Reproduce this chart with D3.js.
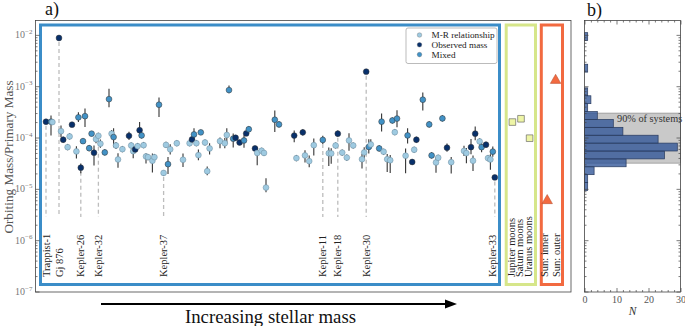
<!DOCTYPE html>
<html><head><meta charset="utf-8">
<script src="https://cdn.jsdelivr.net/npm/d3@7"></script>
<style>body{margin:0;background:#fff}svg{display:block}svg text{font-family:'Liberation Serif','DejaVu Serif',serif}</style>
</head><body><svg id="c" width="685" height="326" font-family="Liberation Serif"></svg>
<script>
// ---------------- DATA ----------------
// position along the stellar-mass ordering (arbitrary units)
const order=[1.5,2.75,3.1,4.75,5.25,5.8,6.9,7.4,8.0,9.1,
9.6,10.2,10.75,11.25,12.3,12.9,13.5,14.0,14.6,15.1,
16.2,17.25,17.9,18.4,19.0,19.5,20.6,22.25,22.8,23.3,
23.8,24.4,24.9,25.4,25.9,26.5,27.0,28.1,28.6,29.75,
30.9,31.5,32.0,32.55,34.2,35.75,37.4,38.0,38.5,39.1,
39.6,40.2,41.25,41.8,42.4,45.0,46.2,46.7,47.25,48.3,
48.9,49.9,51.0,51.55,52.2,53.75,54.3,55.4,56.0,56.5,
58.7,59.75,63.55,64.1,65.7,66.25,67.3,68.45,70.7,72.2,
72.8,73.9,74.45,75.55,76.7,77.25,78.3,80.5,81.05,81.55,
82.2,82.7,84.8,85.4,85.9,86.8,87.55,88.1,88.7,89.25,
91.4,91.9,93.05,93.55,94.1,95.7,97.3,97.9,99.0,99.55,
100.6,101.75,102.8,106.0,106.6,107.75,108.25,108.8,109.9,110.4,
111.5,112.0,112.6,113.2,113.7];
// orbiting mass / primary mass
const ratio=[2.03e-4,2.03e-4,2.0e-4,8.7e-3,1.33e-4,9.06e-5,6.5e-5,1.05e-4,1.78e-4,5.36e-5,
2.47e-4,2.58e-5,8.5e-5,2.61e-4,6.2e-5,1.19e-4,5.06e-5,9.3e-5,1.08e-4,7.57e-5,
5.13e-5,5.6e-4,1.19e-4,1.02e-4,7.0e-5,3.74e-5,5.94e-5,1.08e-4,7.0e-5,5.43e-5,
5.86e-5,6.8e-5,1.39e-4,1.10e-4,7.1e-5,4.28e-5,4.15e-5,3.53e-5,4.15e-5,4.36e-4,
2.04e-5,7.18e-5,3.03e-5,5.9e-5,7.74e-5,3.69e-5,7.74e-5,9.18e-5,1.15e-4,7.76e-5,
4.54e-5,1.26e-4,8.0e-5,2.21e-5,6.13e-5,8.5e-5,7.74e-5,1.12e-4,8.4e-4,9.5e-5,
9.9e-5,8.0e-5,8.77e-5,1.20e-4,1.45e-4,6.13e-5,5.0e-5,5.53e-5,5.0e-5,1.06e-5,
2.22e-4,1.80e-4,1.09e-4,3.97e-5,1.26e-4,4.48e-5,3.47e-5,7.1e-5,8.98e-5,4.94e-5,
4.9e-5,7.0e-5,1.19e-4,5.08e-5,4.06e-5,8.77e-5,7.0e-5,3.78e-5,5.13e-5,1.92e-3,
6.56e-5,7.33e-5,6.13e-5,2.04e-4,5.29e-5,3.78e-5,3.61e-5,2.15e-4,1.27e-4,2.34e-4,
4.42e-5,1.10e-4,3.34e-5,5.78e-5,9.06e-5,5.46e-4,1.80e-4,4.48e-5,3.27e-5,4.04e-5,
2.36e-4,6.33e-5,3.31e-5,5.48e-5,4.97e-5,6.5e-5,3.53e-5,1.19e-4,8.4e-5,6.5e-5,
7.24e-5,3.97e-5,3.74e-5,5.31e-5,1.67e-5];
// L = M-R relationship, O = Observed mass, X = Mixed
const kind=["O","X","L","O","L","O","L","L","O","L",
"X","O","X","X","X","X","O","L","L","L",
"X","X","L","X","L","L","L","O","L","L",
"O","L","O","X","L","L","L","L","L","X",
"L","L","X","L","L","L","L","O","X","L",
"L","X","L","L","L","L","L","L","X","X",
"O","O","X","O","X","O","L","L","L","L",
"X","X","O","L","O","L","L","L","X","L",
"L","L","O","L","L","L","L","L","L","O",
"X","L","X","X","L","L","L","X","L","X",
"L","X","O","L","O","X","X","X","L","L",
"X","O","L","L","L","O","L","O","L","X",
"O","L","L","X","O"];
// error bars, in dex below / above
const errDn=[0,0.27,0,0,0.12,0.06,0.06,0.06,0.05,0.14,
0.09,0.11,0.05,0.21,0.06,0.05,0.25,0.08,0.06,0.08,
0.06,0.16,0.07,0.20,0.07,0.16,0.06,0.08,0.06,0.14,
0.06,0.06,0.14,0.06,0.06,0.14,0.06,0.23,0.06,0.24,
0.06,0.06,0.19,0.10,0.06,0.14,0.06,0.06,0.12,0.06,
0.10,0.05,0.06,0.08,0.12,0.14,0.10,0.17,0.06,0.17,
0.05,0.05,0.14,0.05,0.06,0.05,0.24,0.06,0.06,0.09,
0.24,0.06,0.13,0.06,0.06,0.14,0.12,0.20,0.08,0.25,
0.20,0.06,0.06,0.06,0.06,0.20,0.06,0.18,0.12,0,
0.13,0.08,0.06,0.19,0.06,0.25,0.25,0.06,0.06,0.17,
0.34,0.16,0.06,0.06,0.06,0.21,0.06,0.06,0.20,0.06,
0.06,0.08,0.22,0.10,0.20,0.14,0.20,0.13,0.06,0.10,
0.06,0.06,0.20,0.10,0];
const errUp=[0,0.12,0,0,0.11,0.06,0.06,0.06,0.05,0.10,
0.10,0.08,0.05,0.15,0.06,0.05,0.14,0.08,0.06,0.08,
0.06,0.20,0.07,0.17,0.07,0.12,0.06,0.08,0.06,0.11,
0.06,0.06,0.16,0.06,0.06,0.06,0.06,0.14,0.06,0.14,
0.06,0.06,0.14,0.10,0.06,0.12,0.06,0.06,0.12,0.06,
0.11,0.05,0.06,0.09,0.10,0.07,0.10,0.13,0.09,0.10,
0.05,0.05,0.10,0.05,0.06,0.05,0.11,0.06,0.06,0.18,
0.18,0.06,0.10,0.06,0.06,0.10,0.11,0.13,0.08,0.11,
0.10,0.06,0.06,0.06,0.06,0.14,0.06,0.10,0.10,0,
0.15,0.10,0.06,0.16,0.06,0.10,0.10,0.06,0.06,0.16,
0.14,0.14,0.06,0.06,0.06,0.14,0.06,0.06,0.10,0.06,
0.06,0.08,0.10,0.10,0.10,0.16,0.10,0.14,0.06,0.10,
0.06,0.06,0.10,0.10,0];
const namedSystems=["Trappist-1","Gj 876","Kepler-26","Kepler-32","Kepler-37","Kepler-11","Kepler-18","Kepler-30","Kepler-33"];
const namedIndex=[0,3,11,18,40,78,82,89,124];
const moonNames=["Jupiter moons","Saturn moons","Uranus moons"];
const moonOrder=[118.1,120.25,122.4];
const moonRatio=[2.0e-4,2.32e-4,9.7e-5];
const sunNames=["Sun: inner","Sun: outer"];
const sunOrder=[126.8,128.9];
const sunRatio=[5.9e-6,1.3e-3];
const legendLabels=["M-R relationship","Observed mass","Mixed"];
const legendKinds=["L","O","X"];
// histogram (panel b): log10 bin start, width, counts
const binStartLog=-5.031, binWidthLog=0.1537;
const binCounts=[1,1,3,13,25,29,23,12,9,4,1,2,1,0,0,1,0,0,0,1];
const band90=[3.17e-5,2.99e-4];
const decades=[-7,-6,-5,-4,-3,-2];
const histTicks=[0,10,20,30];

// ---------------- DRAW ----------------
const FONT="'Liberation Serif','DejaVu Serif',serif";
const svg=d3.select("#c").attr("font-family",FONT);
const A={l:35.5,r:571,t:20.5,b:292};
const B={l:584.5,r:680.5,t:20.5,b:292};
const x=d3.scaleLinear().domain([0,132]).range([40,568]);
const y=d3.scaleLog().domain([1e-7,Math.pow(10,-1.72)]).range([291.5,20.5]);
const nx=d3.scaleLinear().domain([0,30]).range([B.l,B.r]);
const col={L:"#9ecae1",O:"#08306b",X:"#4292c6"};
const majors=decades.map(e=>Math.pow(10,e));
const minors=[];
decades.forEach(e=>{for(let m=2;m<=9;m++){const v=m*Math.pow(10,e);if(v<=y.domain()[1])minors.push(v);}});

function styleAxis(g){g.attr("font-family",FONT);g.select(".domain").remove();g.selectAll(".tick line").attr("stroke","#444").attr("stroke-width",0.7);}

// region rectangles
const regions=[{x0:40.5,x1:499.5,c:"#3b8dc8"},{x0:506.2,x1:535.5,c:"#d6e68a"},{x0:541.3,x1:562.5,c:"#f26a40"}];
svg.selectAll("rect.reg").data(regions).enter().append("rect")
 .attr("x",d=>d.x0).attr("y",25).attr("width",d=>d.x1-d.x0).attr("height",259.5)
 .attr("fill","none").attr("stroke",d=>d.c).attr("stroke-width",3);

// panel a y ticks
svg.append("g").attr("transform",`translate(${A.l},0)`).call(d3.axisLeft(y).tickValues(majors).tickSize(-4).tickFormat(()=>"")).call(styleAxis);
svg.append("g").attr("transform",`translate(${A.l},0)`).call(d3.axisLeft(y).tickValues(minors).tickSize(-2).tickFormat(()=>"")).call(styleAxis);
const yl=svg.append("g").selectAll("text").data(decades).enter().append("text")
 .attr("x",A.l-3).attr("y",d=>y(Math.pow(10,d))+3.5).attr("text-anchor","end")
 .attr("font-size",10).attr("fill","#777");
yl.append("tspan").text("10");
yl.append("tspan").attr("dy",-4.5).attr("font-size",7).text(d=>"\u2212"+Math.abs(d));
svg.append("text").attr("transform",`translate(13,157) rotate(-90)`).attr("text-anchor","middle")
 .attr("font-size",13.2).attr("fill","#555").text("Orbiting Mass/Primary Mass");

// dashed guide lines + system labels
const labY=277, lineEnd=217;
svg.selectAll("line.guide").data(namedIndex).enter().append("line")
 .attr("x1",i=>x(order[i])).attr("x2",i=>x(order[i]))
 .attr("y1",i=>y(ratio[i])+4).attr("y2",lineEnd)
 .attr("stroke","#bdbdbd").attr("stroke-width",1.3).attr("stroke-dasharray","4,3");
svg.selectAll("text.sys").data(namedIndex).enter().append("text")
 .attr("transform",(i,k)=>`translate(${x(order[i])-(k===namedIndex.length-1?2:0)},${labY}) rotate(-90)`).attr("dy","0.35em")
 .attr("font-size",10.5).attr("fill","#222").text((i,k)=>namedSystems[k]);
svg.selectAll("text.moon").data(moonNames).enter().append("text")
 .attr("transform",(d,k)=>`translate(${x(moonOrder[k])-1.5},${labY}) rotate(-90)`).attr("dy","0.35em")
 .attr("font-size",10.5).attr("fill","#222").text(d=>d);
svg.selectAll("text.sun").data(sunNames).enter().append("text")
 .attr("transform",(d,k)=>`translate(${x(sunOrder[k])+(k?0.5:-3)},${labY}) rotate(-90)`).attr("dy","0.35em")
 .attr("font-size",10.5).attr("fill","#222").text(d=>d);

// error bars
const idx=d3.range(order.length);
svg.append("g").selectAll("line").data(idx.filter(i=>errDn[i]+errUp[i]>0)).enter().append("line")
 .attr("x1",i=>x(order[i])).attr("x2",i=>x(order[i]))
 .attr("y1",i=>y(ratio[i]*Math.pow(10,errUp[i]))).attr("y2",i=>y(ratio[i]/Math.pow(10,errDn[i])))
 .attr("stroke","#333").attr("stroke-width",1.1);
// points
svg.append("g").selectAll("circle").data(idx).enter().append("circle")
 .attr("cx",i=>x(order[i])).attr("cy",i=>y(ratio[i])).attr("r",2.9)
 .attr("fill",i=>col[kind[i]]).attr("stroke",i=>kind[i]==="L"?"#6d8a9c":"#333").attr("stroke-width",0.5);
// moons
svg.append("g").selectAll("path").data(moonRatio).enter().append("path")
 .attr("transform",(d,k)=>`translate(${x(moonOrder[k])},${y(d)})`)
 .attr("d",d3.symbol(d3.symbolSquare,44)).attr("fill","#eef5a6").attr("stroke","#555").attr("stroke-width",0.6);
// sun
svg.append("g").selectAll("path").data(sunRatio).enter().append("path")
 .attr("transform",(d,k)=>`translate(${x(sunOrder[k])},${y(d)})`)
 .attr("d",d3.symbol(d3.symbolTriangle,48)).attr("fill","#f26a40").attr("stroke","#b04a2a").attr("stroke-width",0.5);

// legend
const lg=svg.append("g");
lg.append("rect").attr("x",406).attr("y",28).attr("width",91).attr("height",35.5).attr("rx",2)
 .attr("fill","#fff").attr("stroke","#aaa").attr("stroke-width",0.8);
legendLabels.forEach((t,k)=>{
 lg.append("circle").attr("cx",419.5).attr("cy",35+k*9.8).attr("r",2.3).attr("fill",col[legendKinds[k]]).attr("stroke","#555").attr("stroke-width",0.3);
 lg.append("text").attr("x",431.5).attr("y",38.2+k*9.8).attr("font-size",9.2).attr("fill","#222").text(t);
});

// frame a
svg.append("rect").attr("x",A.l).attr("y",A.t).attr("width",A.r-A.l).attr("height",A.b-A.t)
 .attr("fill","none").attr("stroke","#444").attr("stroke-width",0.8);
svg.append("text").attr("x",45).attr("y",15).attr("font-size",18).attr("fill","#111").text("a)");

// arrow + caption
svg.append("line").attr("x1",101).attr("x2",447).attr("y1",304).attr("y2",304).attr("stroke","#000").attr("stroke-width",2);
svg.append("path").attr("d","M445,299.5 L457,304 L445,308.5 Z").attr("fill","#000");
svg.append("text").attr("x",270.5).attr("y",322.5).attr("text-anchor","middle").attr("font-size",18.8).attr("fill","#111").text("Increasing stellar mass");

// ---------- panel b ----------
svg.append("rect").attr("x",B.l).attr("y",y(band90[1])).attr("width",B.r-B.l).attr("height",y(band90[0])-y(band90[1]))
 .attr("fill","#c9c9c9").attr("stroke","#8c8c8c").attr("stroke-width",0.7);
const bins=binCounts.map((c,k)=>({c,lo:Math.pow(10,binStartLog+k*binWidthLog),hi:Math.pow(10,binStartLog+(k+1)*binWidthLog)})).filter(d=>d.c>0);
svg.append("g").selectAll("rect").data(bins).enter().append("rect")
 .attr("x",nx(0)).attr("y",d=>y(d.hi)).attr("width",d=>nx(d.c)-nx(0)).attr("height",d=>y(d.lo)-y(d.hi))
 .attr("fill","#2f5597").attr("fill-opacity",0.78).attr("stroke","#27395c").attr("stroke-width",0.7);
svg.append("text").attr("x",617).attr("y",121.5).attr("font-size",10.3).attr("fill","#333").text("90% of systems");

svg.append("g").attr("transform",`translate(${B.l},0)`).call(d3.axisLeft(y).tickValues(majors).tickSize(-4).tickFormat(()=>"")).call(styleAxis);
svg.append("g").attr("transform",`translate(${B.l},0)`).call(d3.axisLeft(y).tickValues(minors).tickSize(-2).tickFormat(()=>"")).call(styleAxis);
svg.append("g").attr("transform",`translate(${B.r},0)`).call(d3.axisRight(y).tickValues(majors).tickSize(-4).tickFormat(()=>"")).call(styleAxis);
svg.append("g").attr("transform",`translate(${B.r},0)`).call(d3.axisRight(y).tickValues(minors).tickSize(-2).tickFormat(()=>"")).call(styleAxis);
const nMinor=d3.range(0,31,2).filter(v=>v%10!==0);
const bx=svg.append("g").attr("transform",`translate(0,${B.b})`).call(d3.axisBottom(nx).tickValues(histTicks).tickSize(-4).tickPadding(4).tickFormat(d3.format("d"))).call(styleAxis);
bx.selectAll("text").attr("font-size",10).attr("fill","#555");
svg.append("g").attr("transform",`translate(0,${B.b})`).call(d3.axisBottom(nx).tickValues(nMinor).tickSize(-2).tickFormat(()=>"")).call(styleAxis);
svg.append("g").attr("transform",`translate(0,${B.t})`).call(d3.axisTop(nx).tickValues(histTicks).tickSize(-4).tickFormat(()=>"")).call(styleAxis);
svg.append("g").attr("transform",`translate(0,${B.t})`).call(d3.axisTop(nx).tickValues(nMinor).tickSize(-2).tickFormat(()=>"")).call(styleAxis);
svg.append("rect").attr("x",B.l).attr("y",B.t).attr("width",B.r-B.l).attr("height",B.b-B.t)
 .attr("fill","none").attr("stroke","#444").attr("stroke-width",0.8);
svg.append("text").attr("x",632.5).attr("y",315).attr("text-anchor","middle").attr("font-size",11.5).attr("font-style","italic").attr("fill","#333").text("N");
svg.append("text").attr("x",587).attr("y",16).attr("font-size",18).attr("fill","#111").text("b)");
</script></body></html>
